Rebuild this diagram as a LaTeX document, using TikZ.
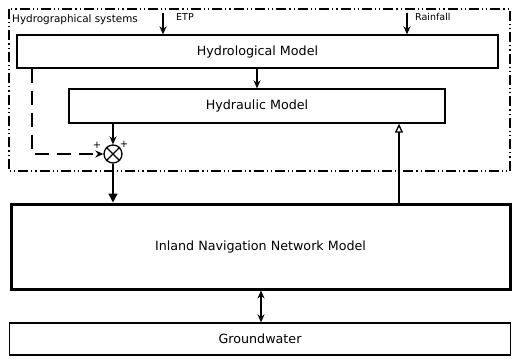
\documentclass[tikz,border=0pt]{standalone}
\usepackage{fontspec}
\setmainfont{DejaVu Sans}
\usetikzlibrary{arrows.meta,calc}
\begin{document}
\begin{tikzpicture}[x=1pt,y=-1pt,
  box/.style={draw,line width=1.3pt,rectangle,inner sep=0pt,font=\fontsize{12.7}{14}\selectfont},
  arr/.style={line width=1.3pt,-{Stealth[length=8pt,width=7pt]}},
  smalllbl/.style={font=\fontsize{9.5}{11}\selectfont,inner sep=0pt,anchor=west},
  dashdotdot/.style={line width=1.2pt,dash pattern=on 10pt off 3pt on 1.2pt off 3pt on 1.2pt off 3pt}]
\useasboundingbox (0,0) rectangle (512,361);
\draw[dashdotdot] (9,9) rectangle (510,171);
\node[box,minimum width=481pt,minimum height=33pt] (hydro) at (257.5,51.5) {Hydrological Model};
\node[box,minimum width=376pt,minimum height=34pt] (hydra) at (257,106) {Hydraulic Model};
\node[draw,circle,line width=1.3pt,minimum size=18pt,inner sep=0pt] (sum) at (113,154) {};
\draw[line width=1.3pt] (sum.north east) -- (sum.south west) (sum.north west) -- (sum.south east);
\node[box,line width=3pt,minimum width=499pt,minimum height=85pt] (inland) at (260.5,246.5) {Inland Navigation Network Model};
\node[box,minimum width=501pt,minimum height=32pt] (ground) at (260,339) {Groundwater};
\node[smalllbl,font=\fontsize{10.4}{12}\selectfont] (hs) at (12,20) {Hydrographical systems};
\coordinate (etp) at (163,13);
\coordinate (rain) at (407,13);
\node[smalllbl] (etplbl) at (176,17) {ETP};
\node[smalllbl] (rainlbl) at (415,17) {Rainfall};
\draw[arr] (etp) -- (etp |- hydro.north);
\draw[arr] (rain) -- (rain |- hydro.north);
\draw[arr] (257,0 |- hydro.south) -- (257,0 |- hydra.north);
\draw[arr] (sum.north |- hydra.south) -- (sum.north);
\coordinate (fb) at (32,0);
\draw[line width=1.3pt,dash pattern=on 14pt off 8pt,-{Stealth[length=8pt,width=7pt]}] (fb |- hydro.south) -- (fb |- sum.west) -- (sum.west);
\node[font=\fontsize{10}{11}\selectfont,inner sep=0pt] (p1) at (97,145) {+};
\node[font=\fontsize{10}{11}\selectfont,inner sep=0pt] (p2) at (124,144) {+};
\draw[line width=1.3pt,-{Triangle[length=9pt,width=9pt]}] (sum.south) -- (sum.south |- inland.north);
\draw[line width=1.3pt,-{Triangle[open,length=9pt,width=8pt]}] (399,0 |- inland.north) -- (399,0 |- hydra.south);
\draw[line width=1.3pt,{Stealth[length=8pt,width=7pt]}-{Stealth[length=8pt,width=7pt]}] (261,0 |- inland.south) -- (261,0 |- ground.north);
\end{tikzpicture}
\end{document}
